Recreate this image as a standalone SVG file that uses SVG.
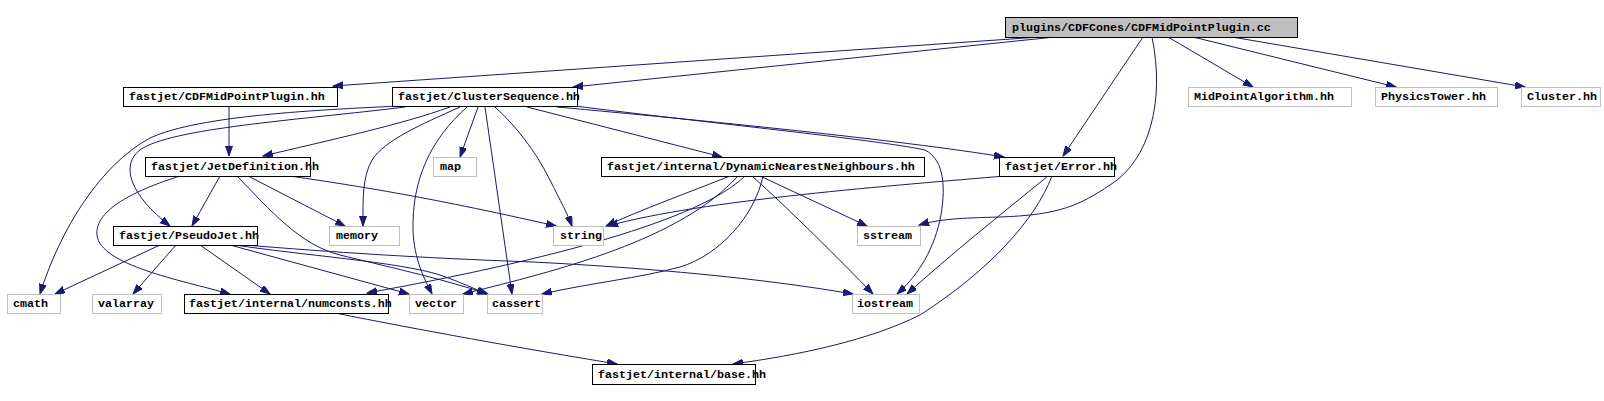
<svg xmlns="http://www.w3.org/2000/svg" width="1604" height="401" viewBox="0 0 1604 401">
<defs>
<style>
.n rect{fill:#fff;stroke:#000;stroke-width:1}
.n.u rect{stroke:#bfbfbf}
.n.r rect{fill:#bfbfbf}
.n text{font-family:"Liberation Mono","DejaVu Sans Mono",monospace;font-size:11.67px;font-weight:bold;fill:#000}
#edges path{fill:none;stroke:#191970;stroke-width:1;marker-end:url(#ah)}
</style>
<marker id="ah" markerWidth="11" markerHeight="8" refX="10" refY="3.5" orient="auto" markerUnits="userSpaceOnUse">
<path d="M0,0 L10,3.5 L0,7 z" fill="#191970" stroke="#191970" stroke-width="1"/>
</marker>
</defs>
<rect width="1604" height="401" fill="#fff"/>
<g id="edges">
<path d="M1040,37 L333,86"/>
<path d="M1055,37 L573,87"/>
<path d="M1168,37 L1253,87"/>
<path d="M1193,37 L1396,87"/>
<path d="M1232,37 L1525,87"/>
<path d="M1143,37 L1063,156"/>
<path d="M1152,37 C1165,100 1150,160 1110,185 C1080,205 1060,215 1000,217 C960,218 940,219 919,225"/>
<path d="M229,106 L229,156"/>
<path d="M450,107 C400,125 330,140 263,156"/>
<path d="M405,107 C300,120 170,128 140,150 C120,165 130,195 170,226"/>
<path d="M398,106 C320,110 200,115 150,138 C100,165 60,230 40,294"/>
<path d="M460,107 C420,125 385,140 372,160 C362,178 363,200 363,226"/>
<path d="M478,107 L460,157"/>
<path d="M467,107 C430,140 412,180 413,230 C414,260 425,280 432,294"/>
<path d="M485,107 L512,294"/>
<path d="M495,107 C515,125 535,150 550,180 C560,200 568,215 572,226"/>
<path d="M527,107 L722,157"/>
<path d="M557,107 C700,120 900,140 1004,157"/>
<path d="M575,106 C700,122 880,140 925,150 C945,160 946,190 940,220 C932,255 915,278 897,294"/>
<path d="M220,176 L192,226"/>
<path d="M248,176 L345,226"/>
<path d="M290,176 C350,185 420,195 556,226"/>
<path d="M180,176 C120,195 95,215 97,235 C100,265 180,280 230,294"/>
<path d="M237,176 C270,210 300,245 340,255 C380,265 440,278 488,294"/>
<path d="M160,245 L55,294"/>
<path d="M176,245 L133,294"/>
<path d="M200,245 L270,294"/>
<path d="M230,245 L409,294"/>
<path d="M235,245 C300,255 400,262 440,275 C460,282 475,289 487,294"/>
<path d="M245,245 C330,252 420,258 533,262 C650,268 760,278 853,294"/>
<path d="M730,176 C690,192 640,210 606,226"/>
<path d="M745,176 C700,220 550,260 367,293"/>
<path d="M738,176 C680,240 560,270 463,294"/>
<path d="M763,176 C755,215 720,255 680,267 C640,278 590,283 542,294"/>
<path d="M760,176 L867,226"/>
<path d="M752,176 C790,210 840,260 873,294"/>
<path d="M1005,176 C900,185 700,200 608,226"/>
<path d="M1048,176 C1000,215 950,255 907,294"/>
<path d="M1052,176 C1035,220 990,270 920,315 C870,340 800,355 733,364"/>
<path d="M335,313 C420,330 520,348 617,364"/>
</g>
<g id="n_root" class="n r"><rect x="1005.5" y="17.5" width="292" height="20"/><text x="1012" y="31">plugins/CDFCones/CDFMidPointPlugin.cc</text></g>
<g id="n_cdfhh" class="n"><rect x="123.5" y="87.5" width="214" height="19"/><text x="129" y="100">fastjet/CDFMidPointPlugin.hh</text></g>
<g id="n_cs" class="n"><rect x="392.5" y="87.5" width="185" height="19"/><text x="398" y="100">fastjet/ClusterSequence.hh</text></g>
<g id="n_mpa" class="n u"><rect x="1188.5" y="87.5" width="163" height="19"/><text x="1194" y="100">MidPointAlgorithm.hh</text></g>
<g id="n_pt" class="n u"><rect x="1375.5" y="87.5" width="122" height="19"/><text x="1381" y="100">PhysicsTower.hh</text></g>
<g id="n_cl" class="n u"><rect x="1521.5" y="87.5" width="79" height="19"/><text x="1527" y="100">Cluster.hh</text></g>
<g id="n_jd" class="n"><rect x="145.5" y="157.5" width="165" height="19"/><text x="151" y="170">fastjet/JetDefinition.hh</text></g>
<g id="n_map" class="n u"><rect x="433.5" y="157.5" width="43" height="19"/><text x="440" y="170">map</text></g>
<g id="n_dnn" class="n"><rect x="601.5" y="157.5" width="323" height="19"/><text x="607" y="170">fastjet/internal/DynamicNearestNeighbours.hh</text></g>
<g id="n_err" class="n"><rect x="999.5" y="157.5" width="115" height="19"/><text x="1005" y="170">fastjet/Error.hh</text></g>
<g id="n_pj" class="n"><rect x="113.5" y="226.5" width="144" height="19"/><text x="119" y="239">fastjet/PseudoJet.hh</text></g>
<g id="n_mem" class="n u"><rect x="329.5" y="226.5" width="70" height="19"/><text x="336" y="239">memory</text></g>
<g id="n_str" class="n u"><rect x="553.5" y="226.5" width="50" height="19"/><text x="560" y="239">string</text></g>
<g id="n_ss" class="n u"><rect x="857.5" y="226.5" width="63" height="19"/><text x="863" y="239">sstream</text></g>
<g id="n_cmath" class="n u"><rect x="7.5" y="294.5" width="53" height="19"/><text x="13" y="307">cmath</text></g>
<g id="n_val" class="n u"><rect x="92.5" y="294.5" width="69" height="19"/><text x="98" y="307">valarray</text></g>
<g id="n_nc" class="n"><rect x="184.5" y="294.5" width="204" height="19"/><text x="189" y="307">fastjet/internal/numconsts.hh</text></g>
<g id="n_vec" class="n u"><rect x="409.5" y="294.5" width="54" height="19"/><text x="415" y="307">vector</text></g>
<g id="n_cas" class="n u"><rect x="487.5" y="294.5" width="55" height="19"/><text x="492" y="307">cassert</text></g>
<g id="n_ios" class="n u"><rect x="852.5" y="294.5" width="67" height="19"/><text x="857" y="307">iostream</text></g>
<g id="n_base" class="n"><rect x="592.5" y="364.5" width="163" height="20"/><text x="598" y="378">fastjet/internal/base.hh</text></g>
</svg>
